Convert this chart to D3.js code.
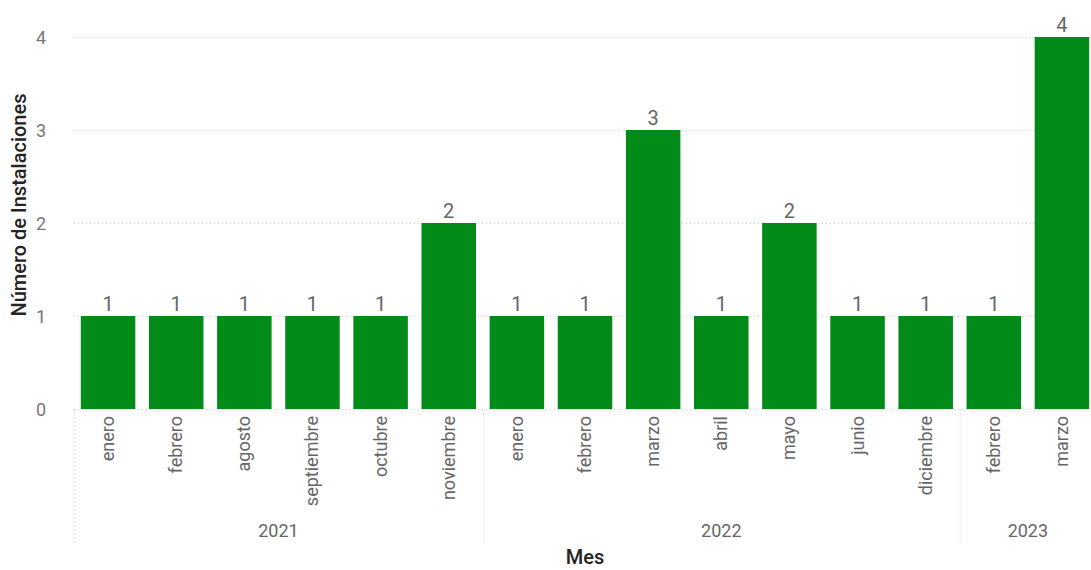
<!DOCTYPE html>
<html lang="en">
<head>
    <title>Instalaciones por mes</title>
    <script src="https://d3js.org/d3.v7.min.js"></script>
    <style>
        body { margin: 0; background: #fff; }
        text { font-family: Roboto, "DejaVu Sans Condensed", sans-serif; }
        .grid line { stroke: #ccc; stroke-dasharray: 1,3; }
        .ytick { font-size: 18px; fill: #777; text-anchor: end; }
        .month { font-size: 18px; fill: #666; text-anchor: end; }
        .year { font-size: 18px; fill: #666; text-anchor: middle; }
        .lbl { font-size: 20px; fill: #666; text-anchor: middle; }
        .title { font-size: 20px; fill: #252423; font-weight: 500; text-anchor: middle; }
    </style>
</head>
<body>
<script>
    const months = ["enero","febrero","agosto","septiembre","octubre","noviembre",
                    "enero","febrero","marzo","abril","mayo","junio","diciembre",
                    "febrero","marzo"];
    const years = ["2021","2021","2021","2021","2021","2021",
                   "2022","2022","2022","2022","2022","2022","2022",
                   "2023","2023"];
    const values = [1,1,1,1,1,2, 1,1,3,1,2,1,1, 1,4];
    const yTicks = [0,1,2,3,4];

    const W = 1091, H = 570;
    const mLeft = 74, mRight = 1096, mTop = 37, mBottom = 409;

    const svg = d3.select("body").append("svg").attr("width", W).attr("height", H);

    const x = d3.scaleBand().domain(d3.range(values.length))
            .range([mLeft, mRight]).paddingInner(0.2).paddingOuter(0.1);
    const y = d3.scaleLinear().domain([0, 4]).range([mBottom, mTop]);

    // grid
    const grid = svg.append("g").attr("class", "grid");
    grid.selectAll("line").data(yTicks).join("line")
        .attr("x1", mLeft).attr("x2", 1090)
        .attr("y1", d => y(d) + 0.5).attr("y2", d => y(d) + 0.5);
    svg.selectAll(".ytick").data(yTicks).join("text")
        .attr("class", "ytick")
        .attr("x", 46).attr("y", d => y(d) + 7)
        .text(d => d);

    // bars
    svg.selectAll("rect").data(values).join("rect")
        .attr("x", (d, i) => x(i)).attr("width", x.bandwidth())
        .attr("y", d => y(d)).attr("height", d => mBottom - y(d))
        .attr("fill", "#038B1A");
    svg.selectAll(".lbl").data(values).join("text")
        .attr("class", "lbl")
        .attr("x", (d, i) => x(i) + x.bandwidth() / 2)
        .attr("y", d => y(d) - 5)
        .text(d => d);

    // month labels
    svg.selectAll(".month").data(months).join("text")
        .attr("class", "month")
        .attr("transform", (d, i) => `translate(${x(i) + x.bandwidth() / 2 + 6},416) rotate(-90)`)
        .text(d => d);

    // year groups
    const groups = d3.groups(years.map((yr, i) => ({yr, i})), d => d.yr);
    const step = x.step();
    const sep = svg.append("g").attr("class", "grid");
    const bounds = [mLeft];
    groups.forEach(([yr, arr]) => {
        const last = arr[arr.length - 1].i;
        bounds.push(x(last) + x.bandwidth() + step * 0.1);
    });
    sep.selectAll("line").data(bounds.slice(0, -1)).join("line")
        .attr("x1", d => d + 0.5).attr("x2", d => d + 0.5)
        .attr("y1", 410).attr("y2", 545);
    svg.selectAll(".year").data(groups).join("text")
        .attr("class", "year")
        .attr("x", ([yr, arr]) => (x(arr[0].i) + x(arr[arr.length - 1].i) + x.bandwidth()) / 2)
        .attr("y", 537)
        .text(([yr]) => yr);

    // axis titles
    svg.append("text").attr("class", "title")
        .attr("x", 585).attr("y", 564).text("Mes");
    svg.append("text").attr("class", "title")
        .attr("transform", `translate(26,205) rotate(-90)`)
        .text("Número de Instalaciones");
</script>
</body>
</html>
